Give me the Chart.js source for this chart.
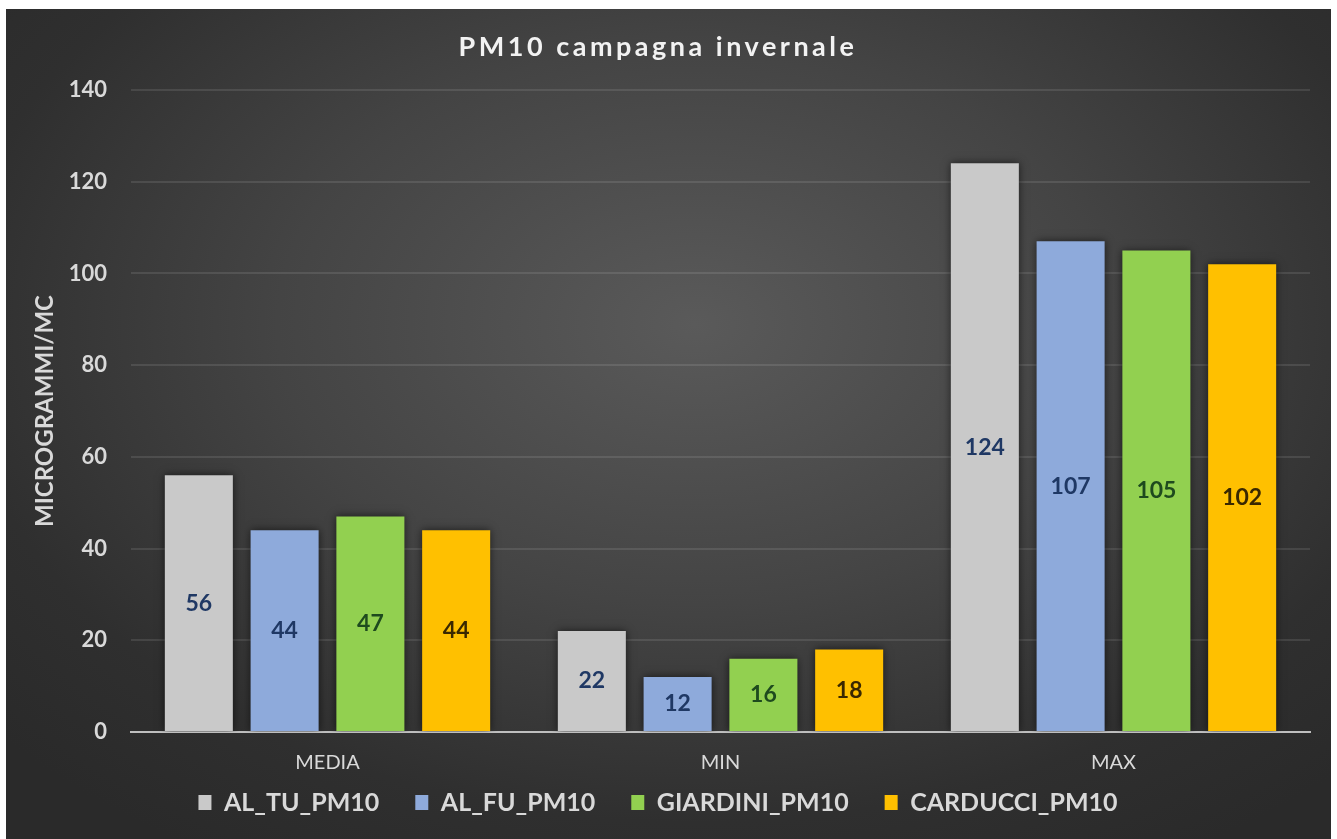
<!DOCTYPE html>
<html>
<head>
<meta charset="utf-8">
<script src="https://cdn.jsdelivr.net/npm/chart.js@4.4.1/dist/chart.umd.min.js"></script>
<style>
  html, body { margin: 0; padding: 0; background: #fff; }
  #panel {
    position: absolute; left: 6px; top: 9px; width: 1325px; height: 830px;
    background: radial-gradient(ellipse 70% 75% at 52% 38%, #5a5a5a 0%, #444 45%, #2f2f2f 80%, #2a2a2a 100%);
  }
</style>
</head>
<body>
<div id="panel"><canvas id="pmChart" width="1325" height="830"></canvas></div>
<script>
const categories = ['MEDIA', 'MIN', 'MAX']
const alTu = [56, 22, 124]
const alFu = [44, 12, 107]
const giardini = [47, 16, 105]
const carducci = [44, 18, 102]

const seriesNames = ['AL_TU_PM10', 'AL_FU_PM10', 'GIARDINI_PM10', 'CARDUCCI_PM10']
const barColors = ['#c9c9c9', '#8eaadb', '#92d050', '#ffc000']
const labelColors = ['#1f3864', '#1f3864', '#1e4a1e', '#3a2800']

const font = 'Lato, "Open Sans", sans-serif'

// value labels in the middle of each bar
const barLabels = {
  id: 'barLabels',
  afterDatasetsDraw(chart) {
    const ctx = chart.ctx
    ctx.save()
    ctx.font = 'bold 23px ' + font
    ctx.textAlign = 'center'
    ctx.textBaseline = 'middle'
    chart.data.datasets.forEach((ds, i) => {
      const meta = chart.getDatasetMeta(i)
      meta.data.forEach((bar, j) => {
        ctx.fillStyle = labelColors[i]
        ctx.fillText(ds.data[j], bar.x, (bar.y + bar.base) / 2)
      })
    })
    ctx.restore()
  }
}

// soft shadow under the bars
const barShadow = {
  id: 'barShadow',
  beforeDatasetsDraw(chart) {
    const ctx = chart.ctx
    ctx.save()
    ctx.shadowColor = 'rgba(0,0,0,0.6)'
    ctx.shadowBlur = 8
    ctx.shadowOffsetX = 0
    ctx.shadowOffsetY = 0
  },
  afterDatasetsDraw(chart) {
    chart.ctx.restore()
  }
}

// the title is drawn with wider letter spacing
const spacedTitle = {
  id: 'spacedTitle',
  beforeDraw(chart) {
    const t = chart.titleBlock
    if (!t || t._spaced) return
    const draw = t.draw.bind(t)
    t.draw = function() {
      chart.ctx.save()
      chart.ctx.letterSpacing = '3.5px'
      draw()
      chart.ctx.restore()
    }
    t._spaced = true
  }
}

const datasets = [alTu, alFu, giardini, carducci].map((data, i) => ({
  label: seriesNames[i],
  data,
  backgroundColor: barColors[i],
  borderWidth: 0,
  categoryPercentage: 0.873,
  barPercentage: 0.793,
}))

new Chart(document.getElementById('pmChart'), {
  type: 'bar',
  data: { labels: categories, datasets },
  plugins: [spacedTitle, barShadow, barLabels],
  options: {
    responsive: false,
    animation: false,
    layout: { padding: { left: 0, right: 21, top: 0, bottom: 14 } },
    plugins: {
      title: {
        display: true,
        text: 'PM10 campagna invernale',
        color: '#f2f2f2',
        font: { family: font, size: 27, weight: 'bold' },
        padding: { top: 22, bottom: 26.6 },
      },
      legend: {
        position: 'bottom',
        labels: {
          color: '#d9d9d9',
          font: { family: font, size: 25, weight: 'bold' },
          boxWidth: 13,
          boxHeight: 15,
          padding: 36,
        },
      },
      tooltip: { enabled: false },
    },
    scales: {
      x: {
        afterFit(scale) {
          // labels overlap the legend box, so keep them from being clipped
          scale.height = 22
          scale._computeLabelArea = () => null
        },
        grid: { display: false, drawTicks: false },
        border: { color: '#bfbfbf', width: 2 },
        ticks: { color: '#d9d9d9', font: { family: font, size: 20 }, padding: 19 },
      },
      y: {
        min: 0,
        max: 140,
        afterFit(scale) { scale.width = 125 },
        grid: {
          drawTicks: false,
          color: ctx => ctx.tick.value === 0 ? 'rgba(0,0,0,0)' : 'rgba(255,255,255,0.1)',
          lineWidth: 2,
        },
        border: { display: false },
        ticks: {
          stepSize: 20,
          color: '#d9d9d9',
          font: { family: font, size: 22, weight: 'bold' },
          padding: 24,
        },
        title: {
          display: true,
          text: 'MICROGRAMMI/MC',
          color: '#d9d9d9',
          font: { family: font, size: 24, weight: 'bold' },
          padding: { top: 25, bottom: 0 },
        },
      },
    },
  },
})
</script>
</body>
</html>
